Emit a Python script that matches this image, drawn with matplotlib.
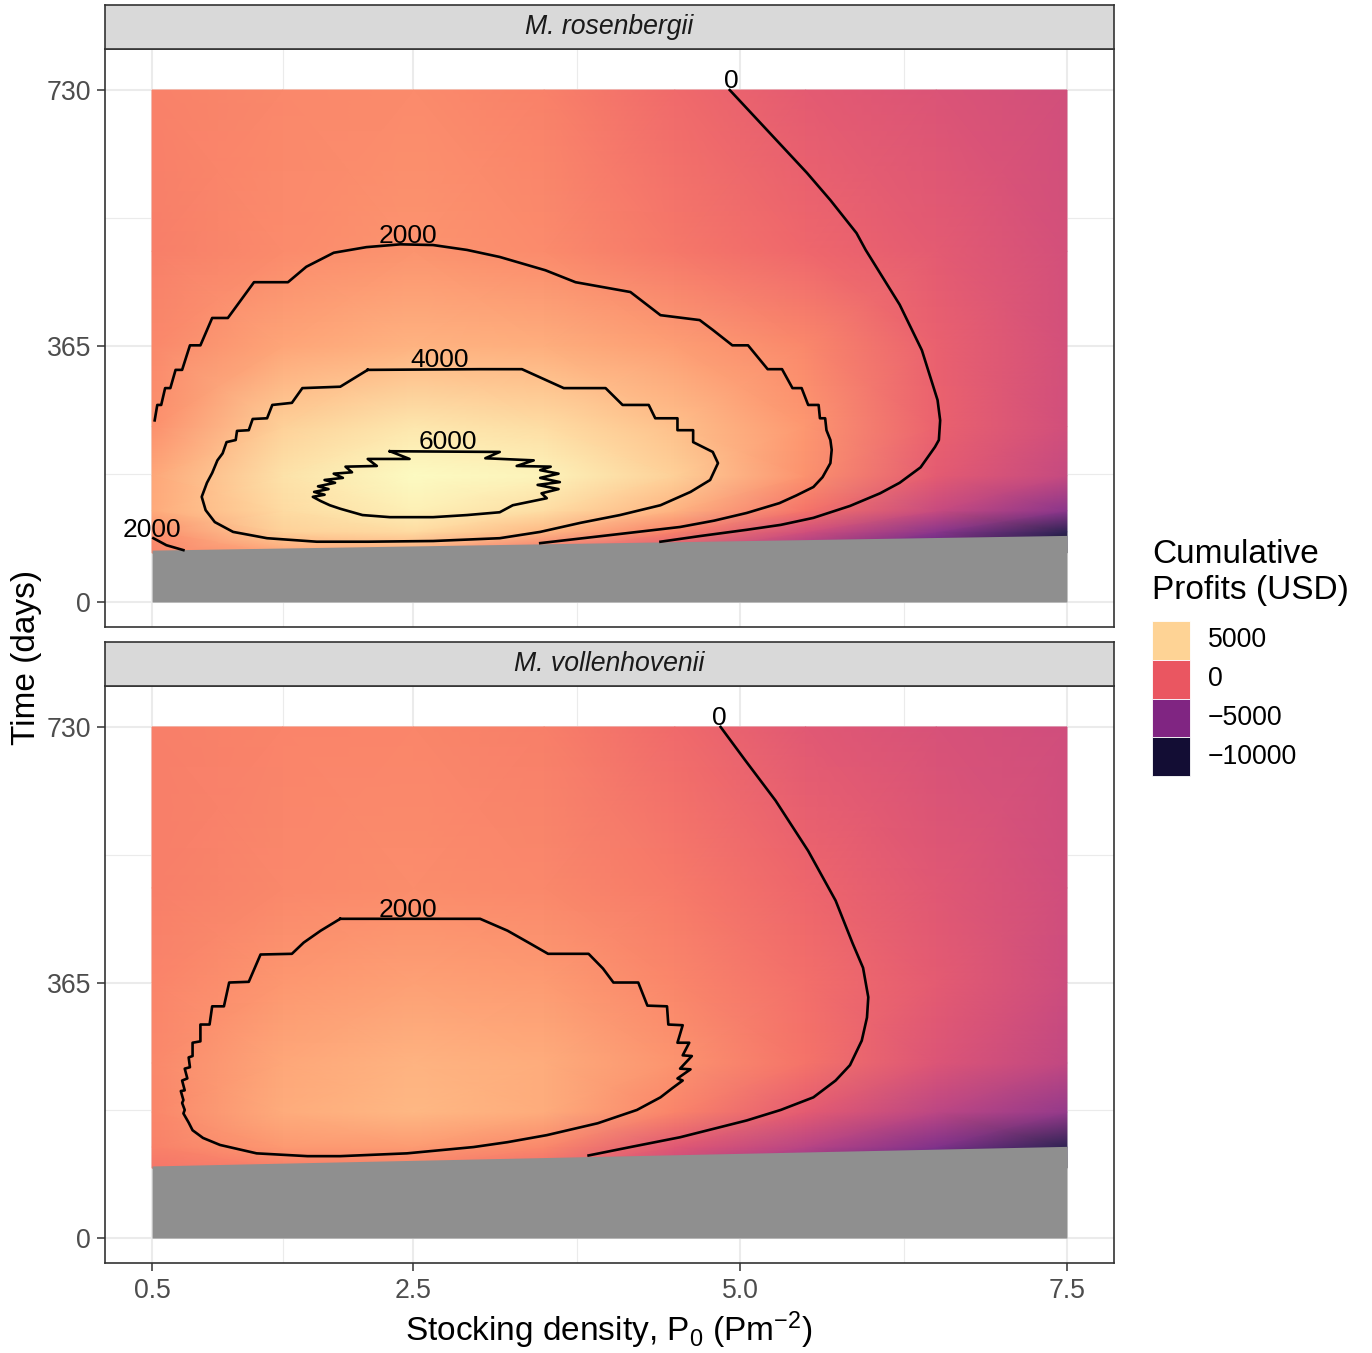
import matplotlib.pyplot as plt
import numpy as np
from matplotlib.colors import Normalize, ListedColormap
from matplotlib.patches import Rectangle

plt.rcParams['font.family'] = ['Liberation Sans', 'DejaVu Sans']
plt.rcParams['mathtext.fontset'] = 'custom'
plt.rcParams['mathtext.rm'] = 'Liberation Sans'
plt.rcParams['mathtext.it'] = 'Liberation Sans:italic'

# ---- data ----
density = [0.5, 1.5, 2.5, 3.5, 4.5, 5.5, 6.5, 7.5]

# cumulative profit (USD), rows = days, columns = density
rosen_days = [70, 100, 130, 180, 250, 365, 500, 730]
rosen_profit = [
    [1500, 2800, 3000, 700, -1300, -4500, -8000, -11500],
    [2000, 4800, 5200, 3700, 1400, -1500, -5000, -9500],
    [3100, 5200, 6100, 5300, 3500, 800, -2000, -5000],
    [3000, 5500, 6600, 6200, 4700, 2100, -500, -2100],
    [2050, 4800, 5700, 5300, 4050, 2350, -50, -1500],
    [1700, 2900, 3500, 3300, 2600, 1650, -100, -1400],
    [1300, 1800, 2150, 1800, 1000, 250, -500, -1400],
    [1400, 1700, 1800, 1400, 400, -500, -1000, -1500],
]
vollen_days = [100, 130, 180, 250, 365, 500, 730]
vollen_profit = [
    [900, 1300, 1400, 500, -2000, -5000, -8500, -11500],
    [1400, 2400, 2500, 1700, -700, -2700, -5500, -9500],
    [1600, 3200, 3700, 3200, 1500, -500, -2500, -4500],
    [1700, 3000, 3500, 3200, 2150, 800, -900, -2300],
    [1500, 2300, 2700, 2450, 1600, 600, -500, -1700],
    [1300, 1700, 1900, 1700, 1100, 150, -700, -1600],
    [1300, 1500, 1600, 1300, 400, -600, -1200, -1600],
]

# no-value region (below first harvest day)
na_density = [0.5, 7.5]
rosen_na_day = [74, 95]
vollen_na_day = [103, 131]

# contour lines, M. rosenbergii
rosen_c0_x = [4.92, 5.51, 5.69, 5.89, 5.96, 6.22, 6.39, 6.51, 6.53, 6.52, 6.49,
              6.38, 6.22, 6.07, 5.84, 5.56, 5.31, 5.05, 4.69, 4.39]
rosen_c0_t = [730, 612, 573, 526, 502, 424, 359, 288, 259, 231, 221,
              192, 170, 155, 137, 120, 110, 103, 94, 86]
rosen_c2000_x = [0.52, 0.54, 0.57, 0.60, 0.64, 0.68, 0.73, 0.79, 0.87, 0.96, 1.08, 1.28, 1.54, 1.68,
                 1.89, 2.14, 2.40, 2.65, 2.91, 3.16, 3.51, 3.74, 4.16, 4.39, 4.69, 4.79, 4.94, 5.06,
                 5.21, 5.32, 5.40, 5.47, 5.52, 5.60, 5.61, 5.65, 5.66, 5.69, 5.70, 5.69, 5.63, 5.56,
                 5.43, 5.30, 5.05, 4.80, 4.54, 4.03, 3.47]
rosen_c2000_t = [259, 281, 281, 305, 305, 331, 331, 366, 366, 405, 405, 456, 456, 478,
                 498, 506, 510, 509, 502, 492, 473, 456, 442, 409, 402, 388, 366, 366,
                 332, 332, 305, 305, 281, 281, 262, 262, 245, 231, 217, 198, 178, 164,
                 152, 141, 127, 116, 107, 96, 84]
rosen_c2000b_x = [0.51, 0.61, 0.74]
rosen_c2000b_t = [91, 81, 74]
rosen_c4000_x = [2.15, 1.94, 1.65, 1.57, 1.42, 1.38, 1.27, 1.24, 1.15, 1.14, 1.07, 1.04, 1.00, 0.96,
                 0.92, 0.88, 0.91, 0.98, 1.12, 1.38, 1.76, 2.15, 2.65, 3.16, 3.47, 3.78, 4.08, 4.39,
                 4.62, 4.77, 4.83, 4.79, 4.64, 4.64, 4.52, 4.52, 4.35, 4.30, 4.10, 3.97, 3.65, 3.33,
                 3.01, 2.15]
rosen_c4000_t = [331, 307, 305, 284, 281, 262, 261, 245, 244, 231, 228, 212, 202, 184,
                 170, 150, 131, 114, 100, 91, 86, 86, 87, 91, 100, 113, 124, 138,
                 157, 174, 198, 214, 228, 245, 245, 262, 262, 281, 281, 305, 305, 332,
                 332, 331]
rosen_c6000_x = [2.32, 2.47, 2.15, 2.22, 1.98, 2.03, 1.89, 1.96, 1.82, 1.90, 1.77, 1.85, 1.74, 1.82,
                 1.73, 1.79, 1.86, 1.94, 2.11, 2.32, 2.65, 2.91, 3.16, 3.26, 3.39, 3.52, 3.48, 3.61,
                 3.45, 3.62, 3.47, 3.61, 3.47, 3.55, 3.29, 3.42, 3.05, 3.16, 2.32]
rosen_c6000_t = [215, 204, 204, 194, 193, 185, 183, 177, 174, 170, 165, 161, 157, 153,
                 150, 144, 138, 133, 124, 121, 121, 124, 128, 138, 143, 148, 155, 161,
                 167, 171, 177, 183, 188, 193, 194, 202, 205, 214, 215]
rosen_labels = [(4.93, 743, '0'), (2.46, 522, '2000'), (2.70, 345, '4000'),
                (2.76, 228, '6000'), (0.50, 103, '2000')]

# contour lines, M. vollenhovenii
vollen_c0_x = [4.85, 5.04, 5.27, 5.52, 5.73, 5.86, 5.94, 5.98, 5.97, 5.93, 5.84, 5.73, 5.56,
               5.31, 5.05, 4.54, 4.16, 3.84]
vollen_c0_t = [730, 682, 625, 553, 482, 421, 386, 344, 315, 282, 247, 225, 201,
               183, 168, 144, 130, 118]
vollen_c2000_x = [1.94, 3.01, 3.22, 3.39, 3.53, 3.84, 3.95, 4.03, 4.22, 4.29, 4.44, 4.45, 4.56, 4.52,
                  4.61, 4.56, 4.63, 4.54, 4.62, 4.52, 4.56, 4.48, 4.39, 4.21, 3.91, 3.52, 3.22, 2.96,
                  2.45, 1.94, 1.69, 1.30, 1.02, 0.89, 0.81, 0.78, 0.74, 0.75, 0.73, 0.74, 0.72, 0.75,
                  0.73, 0.77, 0.75, 0.79, 0.78, 0.81, 0.81, 0.87, 0.87, 0.94, 0.96, 1.05, 1.09, 1.24,
                  1.33, 1.57, 1.66, 1.79, 1.94]
vollen_c2000_t = [456, 456, 439, 421, 406, 406, 385, 365, 365, 332, 331, 305, 304, 279,
                  279, 261, 260, 242, 241, 228, 225, 214, 201, 183, 164, 147, 137, 130,
                  121, 117, 117, 121, 133, 143, 154, 165, 178, 183, 193, 197, 210, 211,
                  225, 228, 242, 244, 258, 260, 279, 281, 305, 305, 331, 331, 365, 366,
                  405, 406, 422, 439, 456]
vollen_labels = [(4.84, 743, '0'), (2.46, 469, '2000')]

x_breaks = [0.5, 2.5, 5.0, 7.5]
x_minor = [1.5, 3.75, 6.25]
y_breaks = [0, 365, 730]
y_minor = [182.5, 547.5]
legend_values = [5000, 0, -5000, -10000]
legend_text = ['5000', '0', '\u22125000', '\u221210000']

# ---- figure ----
W, H = 1372, 1353
fig = plt.figure(figsize=(W / 100, H / 100), dpi=100)
cmap = plt.get_cmap('magma')
norm = Normalize(vmin=-11800, vmax=6700)
# the raster tiles in the original have faint light seams -> slightly washed colours
tile_rgb = cmap(np.linspace(0, 1, 256))[:, :3] * 0.92 + 0.08
tile_cmap = ListedColormap(tile_rgb)


def fig_box(left, top, right, bottom):
    return [left / W, 1 - bottom / H, (right - left) / W, (bottom - top) / H]


def draw_panel(panel, strip_box, species, days, profit, na_days, lines, labels, show_x):
    ax = fig.add_axes(fig_box(*panel))
    X, T = np.meshgrid(density, days)
    ax.pcolormesh(X, T, np.array(profit), shading='gouraud', cmap=tile_cmap, norm=norm, zorder=1)
    ax.fill_between(na_density, 0, na_days, color='#8f8f8f', lw=0, zorder=2)
    for xs, ts in lines:
        ax.plot(xs, ts, color='black', lw=1.9, zorder=3)
    for x, t, s in labels:
        ax.text(x, t, s, ha='center', va='center', fontsize=19, zorder=4)

    ax.set_xlim(0.14, 7.86)
    ax.set_ylim(-35.6, 788.5)
    ax.set_xticks(x_breaks)
    ax.set_xticks(x_minor, minor=True)
    ax.set_yticks(y_breaks)
    ax.set_yticks(y_minor, minor=True)
    ax.set_yticklabels([str(v) for v in y_breaks])
    if show_x:
        ax.set_xticklabels(['%.1f' % v for v in x_breaks])
        ax.tick_params(axis='x', which='major', length=6, width=1.1, color='#333333',
                       labelsize=19.2, labelcolor='#4d4d4d', pad=5)
    else:
        ax.tick_params(axis='x', which='major', length=0, labelbottom=False)
    ax.tick_params(axis='y', which='major', length=6, width=1.1, color='#333333',
                   labelsize=19.2, labelcolor='#4d4d4d', pad=4)
    ax.tick_params(which='minor', length=0)
    ax.grid(True, which='major', color='#ebebeb', lw=1.5)
    ax.grid(True, which='minor', color='#ebebeb', lw=0.8)
    ax.set_axisbelow(True)
    for sp in ax.spines.values():
        sp.set_color('#333333')
        sp.set_linewidth(1.2)

    strip = fig.add_axes(fig_box(*strip_box))
    strip.set_facecolor('#d9d9d9')
    strip.set_xticks([])
    strip.set_yticks([])
    for sp in strip.spines.values():
        sp.set_color('#333333')
        sp.set_linewidth(1.2)
    strip.text(0.5, 0.5, species, style='italic', ha='center', va='center',
               fontsize=19.2, color='#1a1a1a', transform=strip.transAxes)
    return ax


draw_panel((105, 49, 1114, 627), (105, 5, 1114, 49), 'M. rosenbergii',
           rosen_days, rosen_profit, rosen_na_day,
           [(rosen_c0_x, rosen_c0_t), (rosen_c2000_x, rosen_c2000_t),
            (rosen_c2000b_x, rosen_c2000b_t), (rosen_c4000_x, rosen_c4000_t),
            (rosen_c6000_x, rosen_c6000_t)],
           rosen_labels, False)
draw_panel((105, 686, 1114, 1263), (105, 642, 1114, 686), 'M. vollenhovenii',
           vollen_days, vollen_profit, vollen_na_day,
           [(vollen_c0_x, vollen_c0_t), (vollen_c2000_x, vollen_c2000_t)],
           vollen_labels, True)

fig.text(609 / W, 1 - 1330 / H, r'Stocking density, P$_0$ (Pm$^{-2}$)',
         ha='center', va='center', fontsize=24)
fig.text(27 / W, 1 - 657 / H, 'Time (days)', rotation=90,
         ha='center', va='center', fontsize=24)

# legend
fig.text(1152 / W, 1 - 539 / H, 'Cumulative\nProfits (USD)', ha='left', va='top',
         fontsize=24, linespacing=1.22)
key_top = 621
for i, (v, s) in enumerate(zip(legend_values, legend_text)):
    top = key_top + i * 38.8
    fig.patches.append(Rectangle((1152 / W, 1 - (top + 38.8) / H), 38 / W, 38.8 / H,
                                 transform=fig.transFigure, facecolor=cmap(norm(v)),
                                 edgecolor='white', lw=0.6))
    fig.text(1208 / W, 1 - (top + 19.4) / H, s, ha='left', va='center', fontsize=19.2)

fig.savefig('out.png', dpi=100, facecolor='white')
